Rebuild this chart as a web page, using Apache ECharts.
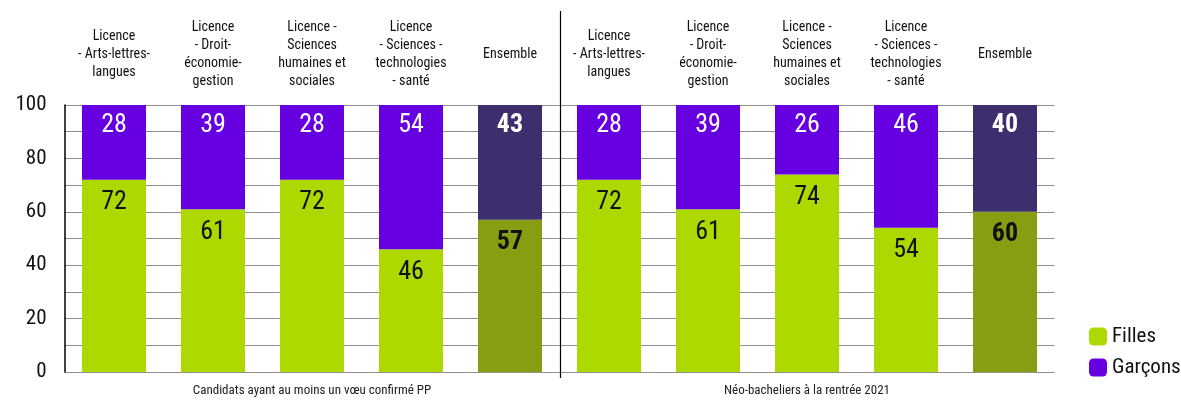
<!DOCTYPE html>
<html>
<head>
<meta charset="utf-8">
<script src="https://cdn.jsdelivr.net/npm/echarts@6/dist/echarts.min.js"></script>
<style>
html,body{margin:0;padding:0;background:#fff;}
#chart{width:1181px;height:401px;}
</style>
</head>
<body>
<div id="chart"></div>
<script>
const categories = [
  "Licence\n- Arts-lettres-\nlangues",
  "Licence\n- Droit-\néconomie-\ngestion",
  "Licence -\nSciences\nhumaines et\nsociales",
  "Licence\n- Sciences -\ntechnologies\n- santé",
  "Ensemble",
  "Licence\n- Arts-lettres-\nlangues",
  "Licence\n- Droit-\néconomie-\ngestion",
  "Licence -\nSciences\nhumaines et\nsociales",
  "Licence\n- Sciences -\ntechnologies\n- santé",
  "Ensemble"
];
const groups = ["Candidats ayant au moins un vœu confirmé PP", "Néo-bacheliers à la rentrée 2021"];
const filles  = [72, 61, 72, 46, 57, 72, 61, 74, 54, 60];
const garcons = [28, 39, 28, 54, 43, 28, 39, 26, 46, 40];
const yTicks = [0, 20, 40, 60, 80, 100];

const FONT = "'Liberation Sans Narrow', 'Roboto Condensed', 'DejaVu Sans Condensed', 'Liberation Sans', sans-serif";
const C_F = '#ADD800', C_F_ENS = '#889E12';
const C_G = '#6600E0', C_G_ENS = '#3E2E6E';

function build(vals, normal, ens) {
  return vals.map((v, i) => categories[i] === 'Ensemble'
    ? { value: v, itemStyle: { color: ens }, label: { fontWeight: 'bold' } }
    : v);
}

const chart = echarts.init(document.getElementById('chart'));
chart.setOption({
  animation: false,
  textStyle: { fontFamily: FONT },
  grid: { left: 64.5, right: 126.5, top: 105, bottom: 29, containLabel: false },
  legend: {
    orient: 'vertical', left: 1084, top: 321,
    itemWidth: 18, itemHeight: 18, itemGap: 10,
    textStyle: { fontFamily: FONT, fontSize: 21, color: '#111' },
    data: ['Filles', 'Garçons']
  },
  xAxis: [{
    type: 'category', position: 'top', data: categories,
    axisLine: { show: false }, axisTick: { show: false },
    axisLabel: { interval: 0, margin: 51, verticalAlign: 'middle', fontFamily: FONT, fontSize: 14, lineHeight: 18, color: '#111' }
  }, {
    type: 'category', position: 'bottom', data: groups,
    axisLine: { show: false }, axisTick: { show: false },
    axisLabel: { interval: 0, margin: 12, fontFamily: FONT, fontSize: 13, color: '#222' }
  }],
  yAxis: {
    type: 'value', min: 0, max: 100, interval: 10,
    axisLine: { show: true, lineStyle: { color: '#000', width: 1.5 } },
    axisTick: { show: false },
    axisLabel: { margin: 18, fontFamily: FONT, fontSize: 21, color: '#111',
      formatter: v => yTicks.includes(v) ? String(v) : '' },
    splitLine: { lineStyle: { color: '#8f8f8f', width: 1 } }
  },
  series: [{
    name: 'Filles', type: 'bar', stack: 'a', barWidth: 64,
    itemStyle: { color: C_F },
    label: { show: true, position: 'insideTop', distance: 10, color: '#111', fontSize: 26, fontFamily: FONT },
    data: build(filles, C_F, C_F_ENS)
  }, {
    name: 'Garçons', type: 'bar', stack: 'a', barWidth: 64,
    itemStyle: { color: C_G },
    label: { show: true, position: 'insideTop', distance: 7, color: '#fff', fontSize: 26, fontFamily: FONT },
    data: build(garcons, C_G, C_G_ENS)
  }]
});

const xa = chart.convertToPixel({ xAxisIndex: 0 }, 4);
const xb = chart.convertToPixel({ xAxisIndex: 0 }, 5);
const sx = Math.round((xa + xb) / 2) + 0.5;
const y0 = chart.convertToPixel({ yAxisIndex: 0 }, 0);
chart.setOption({
  graphic: [{
    type: 'line', z: 10,
    shape: { x1: sx, y1: 11, x2: sx, y2: y0 + 6 },
    style: { stroke: '#000', lineWidth: 1.2 }
  }]
});
</script>
</body>
</html>
